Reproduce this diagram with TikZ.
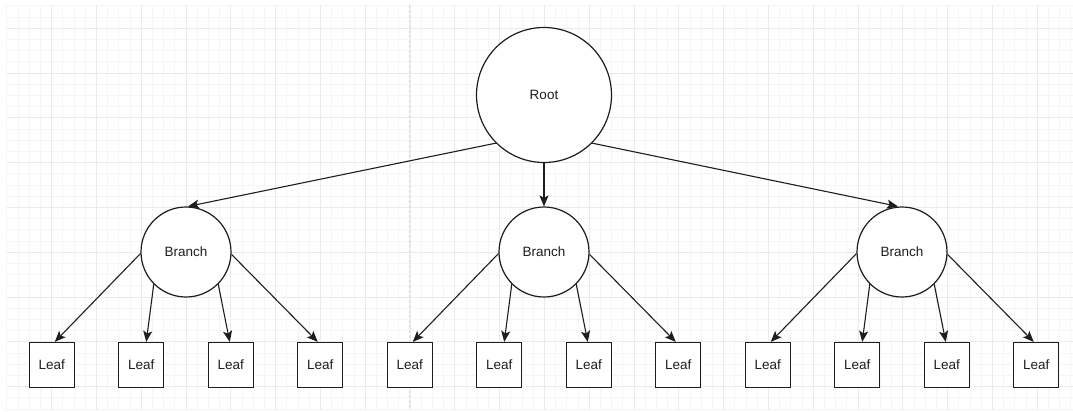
\documentclass[tikz,border=0pt]{standalone}
\usepackage{fontspec}
\setmainfont{Liberation Sans}
\usetikzlibrary{arrows.meta}
\definecolor{gridminor}{HTML}{F5F5F5}
\definecolor{gridmajor}{HTML}{EAEAEA}
\definecolor{pagebreak}{HTML}{DADADA}
\definecolor{ink}{HTML}{1E1E1E}
\tikzset{
  treenode/.style={draw=ink, line width=1.2pt, fill=white, text=ink, inner sep=0pt,
    font=\fontsize{13.5}{16}\selectfont},
  rootnode/.style={treenode, circle, minimum size=135pt},
  branchnode/.style={treenode, circle, minimum size=90pt},
  leafnode/.style={treenode, rectangle, minimum size=45pt},
  link/.style={draw=ink, line width=1.1pt,
    -{Stealth[length=11pt, width=9pt, inset=2.5pt]}},
}
\begin{document}
\begin{tikzpicture}[x=1pt, y=-1pt]
  \useasboundingbox (0,0) rectangle (1073,412);
  \fill[white] (0,0) rectangle (1073,412);

  % background grid
  \begin{scope}
    \clip (6.5,5) rectangle (1073,410);
    \foreach \i in {0,...,95}
      \draw[gridminor, line width=0.9pt] (6.9+11.2*\i, 5) -- (6.9+11.2*\i, 410);
    \foreach \j in {0,...,36}
      \draw[gridminor, line width=0.9pt] (6.5, 5.9+11.2*\j) -- (1073, 5.9+11.2*\j);
    \foreach \i in {0,...,24}
      \draw[gridmajor, line width=0.9pt] (6.9+44.8*\i, 5) -- (6.9+44.8*\i, 410);
    \foreach \j in {0,...,9}
      \draw[gridmajor, line width=0.9pt] (6.5, 28.3+44.8*\j) -- (1073, 28.3+44.8*\j);
  \end{scope}
  % page break
  \draw[pagebreak, line width=1.1pt, dash pattern=on 3pt off 2pt] (409.3,5) -- (409.3,410);

  % nodes
  \node[rootnode] (root) at (544,95) {\raisebox{-1.5pt}{Root}};
  \foreach \g/\bx in {l/186, m/544, r/902} {
    \node[branchnode] (b\g) at (\bx,252) {\raisebox{-1.5pt}{Branch}};
    \node[leafnode] (\g1) at (\bx-134.25,365) {\raisebox{-1.5pt}{Leaf}};
    \node[leafnode] (\g2) at (\bx-44.75,365) {\raisebox{-1.5pt}{Leaf}};
    \node[leafnode] (\g3) at (\bx+44.75,365) {\raisebox{-1.5pt}{Leaf}};
    \node[leafnode] (\g4) at (\bx+134.25,365) {\raisebox{-1.5pt}{Leaf}};
  }

  % root to branches
  \draw[link] (root.225) -- ([xshift=2pt]bl.north);
  \draw[link] (root.south) -- (bm.north);
  \draw[link] (root.315) -- ([xshift=-4pt]br.north);

  % branches to leaves
  \foreach \g in {l,m,r} {
    \draw[link] (b\g.182) -- ([xshift=3pt]\g1.north);
    \draw[link] (b\g.225) -- ([xshift=5pt]\g2.north);
    \draw[link] (b\g.315) -- ([xshift=-1pt]\g3.north);
    \draw[link] (b\g.-3) -- ([xshift=-2.5pt]\g4.north);
  }
\end{tikzpicture}
\end{document}
